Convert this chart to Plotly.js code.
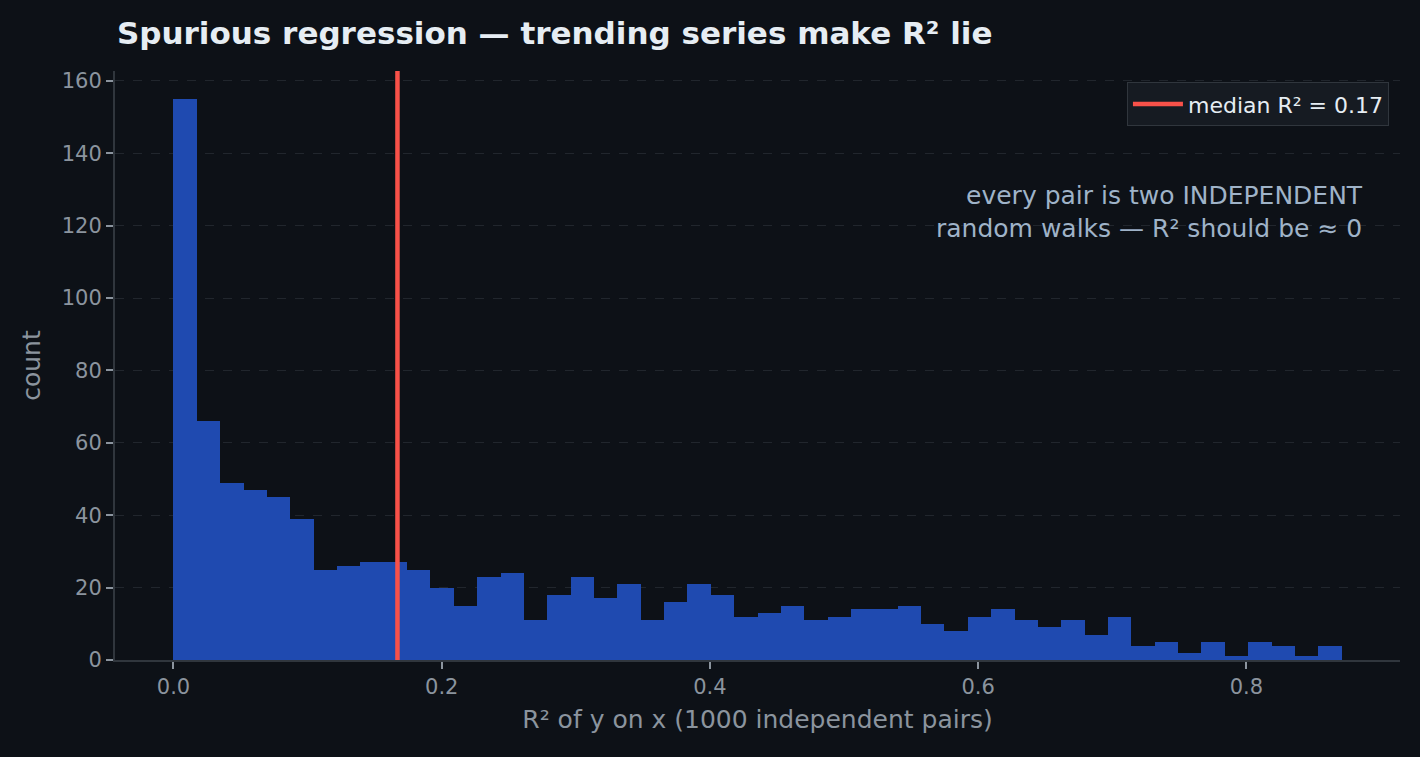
<!DOCTYPE html>
<html>
<head>
<meta charset="utf-8">
<script src="https://cdn.plot.ly/plotly-3.0.1.min.js"></script>
<style>
  html, body { margin: 0; padding: 0; background: #0d1117; }
  #chart { width: 1420px; height: 757px; }
</style>
</head>
<body>
<div id="chart"></div>
<script>
// histogram counts, 50 equal bins of R²
var counts = [155, 66, 49, 47, 45, 39, 25, 26, 27, 27,
              25, 20, 15, 23, 24, 11, 18, 23, 17, 21,
              11, 16, 21, 18, 12, 13, 15, 11, 12, 14,
              14, 15, 10, 8, 12, 14, 11, 9, 11, 7,
              12, 4, 5, 2, 5, 1, 5, 4, 1, 4];
var binStart = 0.0;
var binWidth = 0.01742;
var medianR2 = 0.167;
var yTicks = [0, 20, 40, 60, 80, 100, 120, 140, 160];
var xTicks = [0.0, 0.2, 0.4, 0.6, 0.8];

var centers = counts.map(function (c, i) { return binStart + (i + 0.5) * binWidth; });

var bars = {
  type: "bar",
  x: centers,
  y: counts,
  width: binWidth,
  marker: { color: "#1f4ab0", line: { width: 0 } },
  showlegend: false,
  hoverinfo: "x+y"
};

var layout = {
  width: 1420,
  height: 757,
  paper_bgcolor: "#0d1117",
  plot_bgcolor: "#0d1117",
  font: { family: "DejaVu Sans", color: "#8b949e" },
  margin: { l: 115, r: 20, t: 71, b: 97 },
  bargap: 0,
  title: {
    text: "<b>Spurious regression — trending series make R² lie</b>",
    font: { size: 31, color: "#e6edf3", family: "DejaVu Sans" },
    xref: "container", x: 0.0824, xanchor: "left",
    yref: "container", y: 0.956, yanchor: "middle"
  },
  xaxis: {
    range: [-0.0436, 0.9145],
    tickvals: xTicks,
    tickformat: ".1f",
    ticks: "outside", ticklen: 7, tickwidth: 1.5, tickcolor: "#8b949e",
    tickfont: { size: 21, color: "#8b949e" },
    showgrid: false, zeroline: false,
    showline: true, linecolor: "#30363d", linewidth: 2,
    title: { text: "R² of y on x (1000 independent pairs)", font: { size: 25, color: "#8b949e" }, standoff: 12 }
  },
  yaxis: {
    range: [0, 162.75],
    tickvals: yTicks,
    ticks: "outside", ticklen: 7, tickwidth: 1.5, tickcolor: "#8b949e",
    tickfont: { size: 21, color: "#8b949e" },
    showgrid: true, gridcolor: "#21262d", griddash: "dash", gridwidth: 1,
    zeroline: false,
    showline: true, linecolor: "#30363d", linewidth: 2,
    title: { text: "count", font: { size: 25, color: "#8b949e" }, standoff: 14 }
  },
  shapes: [{
    type: "line", xref: "x", yref: "paper",
    x0: medianR2, x1: medianR2, y0: 0, y1: 1,
    line: { color: "#f85149", width: 4.5 },
    showlegend: true,
    name: "median R² = 0.17"
  }],
  showlegend: true,
  legend: {
    x: 0.9914, xanchor: "right", y: 0.981, yanchor: "top",
    bgcolor: "#161b22", bordercolor: "#30363d", borderwidth: 1,
    itemwidth: 50,
    font: { size: 22, color: "#e6edf3" }
  },
  annotations: [{
    xref: "paper", yref: "paper", x: 0.973, y: 0.761,
    xanchor: "right", yanchor: "middle", align: "right",
    showarrow: false,
    text: "every pair is two INDEPENDENT<br>random walks — R² should be ≈ 0",
    font: { size: 25, color: "#9fb3c8" }
  }]
};

Plotly.newPlot("chart", [bars], layout, { displayModeBar: false, responsive: false });
</script>
</body>
</html>
